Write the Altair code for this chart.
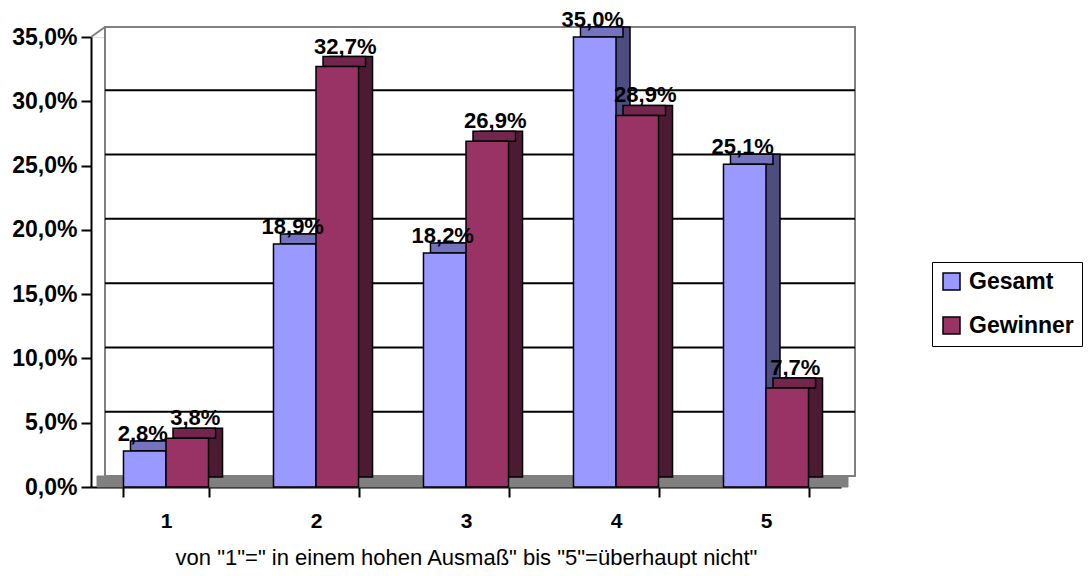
import altair as alt
import pandas as pd

categories = ["1", "2", "3", "4", "5"]
series_names = ["Gesamt", "Gewinner"]
gesamt = [2.8, 18.9, 18.2, 35.0, 25.1]
gewinner = [3.8, 32.7, 26.9, 28.9, 7.7]
y_ticks = [0, 5, 10, 15, 20, 25, 30, 35]
grid_values = [5, 10, 15, 20, 25, 30]
front_colors = ["#9999FF", "#993366"]
top_colors = ["#7373C0", "#73264D"]
side_colors = ["#4D4D80", "#4D1A33"]
x_title = 'von "1"=" in einem hohen Ausmaß" bis "5"=überhaupt nicht"'

rows = []
for c, g, w in zip(categories, gesamt, gewinner):
    for s, v in zip(series_names, (g, w)):
        rows.append({"cat": c, "series": s, "value": v,
                     "label": f"{v:.1f}%".replace(".", ",")})
df = pd.DataFrame(rows)
grid_df = pd.DataFrame({"t": grid_values})
one = pd.DataFrame({"k": [0]})

W, H = 750, 450
DX, DY = 14, 10
PAD_INNER = 0.433
BAR_W = W / len(categories) * (1 - PAD_INNER) / 2
FONT = "Liberation Sans"

x_axis = alt.Axis(tickBand="extent", labelAngle=0, domainColor="black", domainWidth=2,
                  tickColor="black", tickWidth=2, tickSize=10, labelFontSize=21,
                  labelFontWeight="bold", labelColor="black", labelPadding=13,
                  title=x_title, titleFontSize=22, titleFontWeight="normal",
                  titleColor="black", titlePadding=16, grid=False)
y_axis = alt.Axis(values=y_ticks, domainColor="black", domainWidth=2, tickColor="black",
                  tickWidth=2, tickSize=10, labelFontSize=23, labelFontWeight="bold",
                  labelColor="black", labelPadding=4, title=None, grid=False,
                  labelExpr="replace(format(datum.value, '.1f'), '.', ',') + '%'")
x_scale = alt.Scale(domain=categories, paddingInner=PAD_INNER, paddingOuter=PAD_INNER / 2)
y_scale = alt.Scale(domain=[0, 35], nice=False, zero=True)


def X():
    return alt.X("cat:N", scale=x_scale, axis=x_axis, title=x_title)


def Y(field="value:Q"):
    return alt.Y(field, scale=y_scale, axis=y_axis, title=None)


legend = alt.Legend(title=None, orient="none", legendX=841, legendY=225,
                    padding=8, strokeColor="black", fillColor="white",
                    symbolType="square", symbolSize=289,
                    symbolStrokeColor="black", symbolStrokeWidth=1.5,
                    symbolOpacity=1, labelFontSize=23,
                    labelFontWeight="bold", labelColor="black",
                    rowPadding=20, labelOffset=6)
fill_enc = alt.Fill("series:N", scale=alt.Scale(domain=series_names, range=front_colors),
                    legend=legend)

wall = alt.Chart(one).mark_rect(fill="white", stroke="#808080", strokeWidth=2).encode(
    x=alt.value(DX), x2=alt.value(W + DX), y=alt.value(-DY), y2=alt.value(H - DY - 1))
floor = alt.Chart(one).mark_rect(fill="#808080", stroke="#808080").encode(
    x=alt.value(6), x2=alt.value(W + 7), y=alt.value(H - DY - 1), y2=alt.value(H))
diag = alt.Chart(one).mark_rule(color="#808080", strokeWidth=2).encode(
    x=alt.value(0), y=alt.value(0), x2=alt.value(DX), y2=alt.value(-DY))
grid = alt.Chart(grid_df).mark_rule(color="black", strokeWidth=2, yOffset=-DY - 1).encode(
    y=Y("t:Q"), x=alt.value(DX), x2=alt.value(W + DX))

layers = [wall, floor, diag, grid]
for i, s in enumerate(series_names):
    base = -BAR_W / 2 if i == 0 else BAR_W / 2
    d = alt.Chart(df).transform_filter(alt.datum.series == s)
    side = d.mark_bar(stroke="black", strokeWidth=1.5, width=BAR_W, xOffset=base + DX,
                      yOffset=-DY, y2Offset=-DY, fill=side_colors[i]).encode(x=X(), y=Y())
    top = d.mark_bar(stroke="black", strokeWidth=1.5, width=BAR_W, xOffset=base + DX / 2,
                     yOffset=-DY, y2Offset=0, fill=top_colors[i]).encode(
        x=X(), y=Y(), y2=alt.Y2("value:Q"))
    front = d.mark_bar(stroke="black", strokeWidth=1.5, width=BAR_W, xOffset=base).encode(
        x=X(), y=Y(), fill=fill_enc)
    layers += [side, top, front]

for i, s in enumerate(series_names):
    base = -BAR_W / 2 if i == 0 else BAR_W / 2
    shift = -2 if i == 0 else 8
    lift = -17 if i == 0 else -20
    t = alt.Chart(df).transform_filter(alt.datum.series == s).mark_text(
        fontSize=22, fontWeight="bold", baseline="middle", dy=lift, xOffset=base + shift,
        color="black").encode(x=X(), y=Y(), text="label:N")
    layers.append(t)

chart = alt.layer(*layers).properties(
    width=W, height=H,
    padding={"left": 83, "top": 29, "right": 242, "bottom": 81},
    autosize=alt.AutoSizeParams(type="none"),
).configure_view(stroke=None).configure(font=FONT)

chart.save("out.html", embed_options={"renderer": "svg", "actions": False})
